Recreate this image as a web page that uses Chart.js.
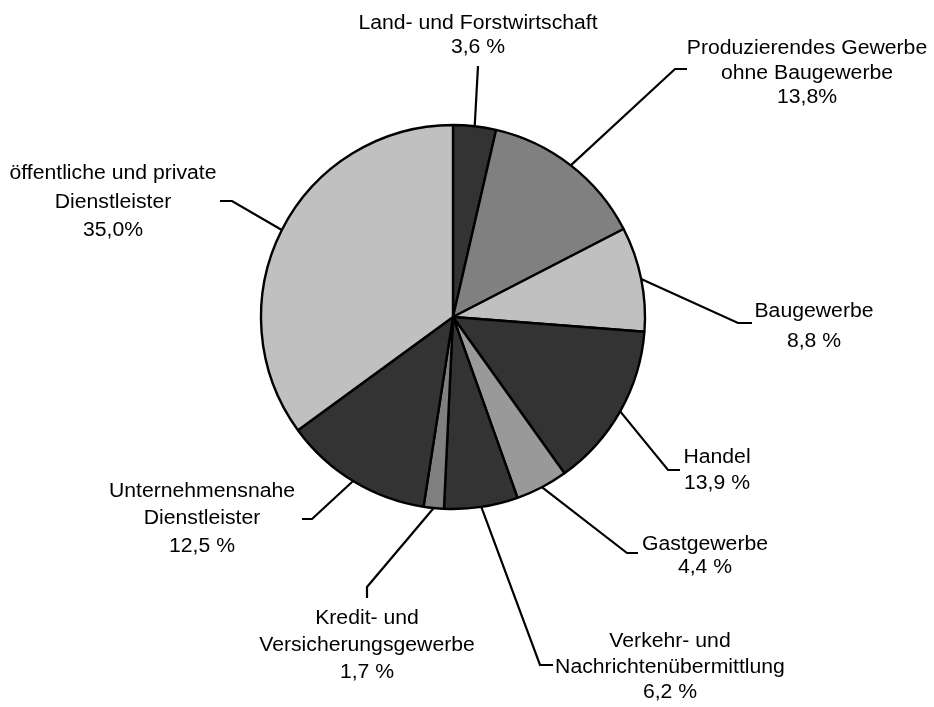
<!DOCTYPE html>
<html>
<head>
<meta charset="utf-8">
<script src="https://cdn.jsdelivr.net/npm/chart.js@4/dist/chart.umd.min.js"></script>
<style>
  body { margin: 0; background: #fff; }
  canvas { display: block; }
</style>
</head>
<body>
<canvas id="pieChart" width="934" height="707"></canvas>
<script>
// Branchenanteile (clockwise from 12 o'clock)
const categories = [
    ['Land- und Forstwirtschaft'],
    ['Produzierendes Gewerbe', 'ohne Baugewerbe'],
    ['Baugewerbe'],
    ['Handel'],
    ['Gastgewerbe'],
    ['Verkehr- und', 'Nachrichtenübermittlung'],
    ['Kredit- und', 'Versicherungsgewerbe'],
    ['Unternehmensnahe', 'Dienstleister'],
    ['öffentliche und private', 'Dienstleister']
];
const shares = [3.6, 13.8, 8.8, 13.9, 4.4, 6.2, 1.7, 12.5, 35.0];
const shareText = ['3,6 %', '13,8%', '8,8 %', '13,9 %', '4,4 %', '6,2 %', '1,7 %', '12,5 %', '35,0%'];
const sliceColors = ['#333333', '#808080', '#c0c0c0', '#333333', '#999999', '#333333', '#808080', '#333333', '#c0c0c0'];

// label placement relative to the pie centre: elbow, line end, text centre x, first line y, line height
const labelLayout = [
    { elbow: [25, -251], end: [25, -251], tx: 25, ty: -295.5, lh: 24.5 },
    { elbow: [222, -248], end: [234, -248], tx: 354, ty: -270, lh: 24.5 },
    { elbow: [285, 6], end: [299, 6], tx: 361, ty: -7, lh: 30 },
    { elbow: [215, 153], end: [227, 153], tx: 264, ty: 139, lh: 26 },
    { elbow: [174, 236], end: [185, 236], tx: 252, ty: 226, lh: 22.5 },
    { elbow: [87, 348], end: [100, 348], tx: 217, ty: 323, lh: 25.5 },
    { elbow: [-86, 270], end: [-86, 281], tx: -86, ty: 300, lh: 27 },
    { elbow: [-141, 202], end: [-151, 202], tx: -251, ty: 172.5, lh: 27.5 },
    { elbow: [-221, -116], end: [-233, -116], tx: -340, ty: -145, lh: 28.5 }
];

const FONT_SIZE = 20;

const leaderLabels = {
    id: 'leaderLabels',
    afterDatasetsDraw(chart) {
        const ctx = chart.ctx;
        const meta = chart.getDatasetMeta(0);
        ctx.save();
        ctx.strokeStyle = '#000';
        ctx.lineWidth = 2.2;
        ctx.fillStyle = '#000';
        ctx.font = FONT_SIZE + 'px "Liberation Sans", Arial, sans-serif';
        ctx.textAlign = 'center';
        ctx.textBaseline = 'alphabetic';
        meta.data.forEach(function (arc, i) {
            const p = arc.getProps(['x', 'y', 'startAngle', 'endAngle', 'outerRadius'], true);
            const mid = (p.startAngle + p.endAngle) / 2;
            const lay = labelLayout[i];
            ctx.beginPath();
            ctx.moveTo(p.x + Math.cos(mid) * p.outerRadius, p.y + Math.sin(mid) * p.outerRadius);
            ctx.lineTo(p.x + lay.elbow[0], p.y + lay.elbow[1]);
            ctx.lineTo(p.x + lay.end[0], p.y + lay.end[1]);
            ctx.stroke();

            const lines = categories[i].concat([shareText[i]]);
            lines.forEach(function (txt, k) {
                const cy = p.y + lay.ty + k * lay.lh + FONT_SIZE * 0.36;
                ctx.save();
                ctx.translate(p.x + lay.tx, cy);
                ctx.scale(1.06, 1);
                ctx.fillText(txt, 0, 0);
                ctx.restore();
            });
        });
        ctx.restore();
    }
};

new Chart(document.getElementById('pieChart'), {
    type: 'pie',
    data: {
        labels: categories.map(c => c.join(' ')),
        datasets: [{
            data: shares,
            backgroundColor: sliceColors,
            borderColor: '#000000',
            borderWidth: 2.4
        }]
    },
    options: {
        responsive: false,
        animation: false,
        radius: 192,
        layout: { padding: { left: 0, right: 28, top: 0, bottom: 73 } },
        plugins: {
            legend: { display: false },
            tooltip: { enabled: false }
        }
    },
    plugins: [leaderLabels]
});
</script>
</body>
</html>
